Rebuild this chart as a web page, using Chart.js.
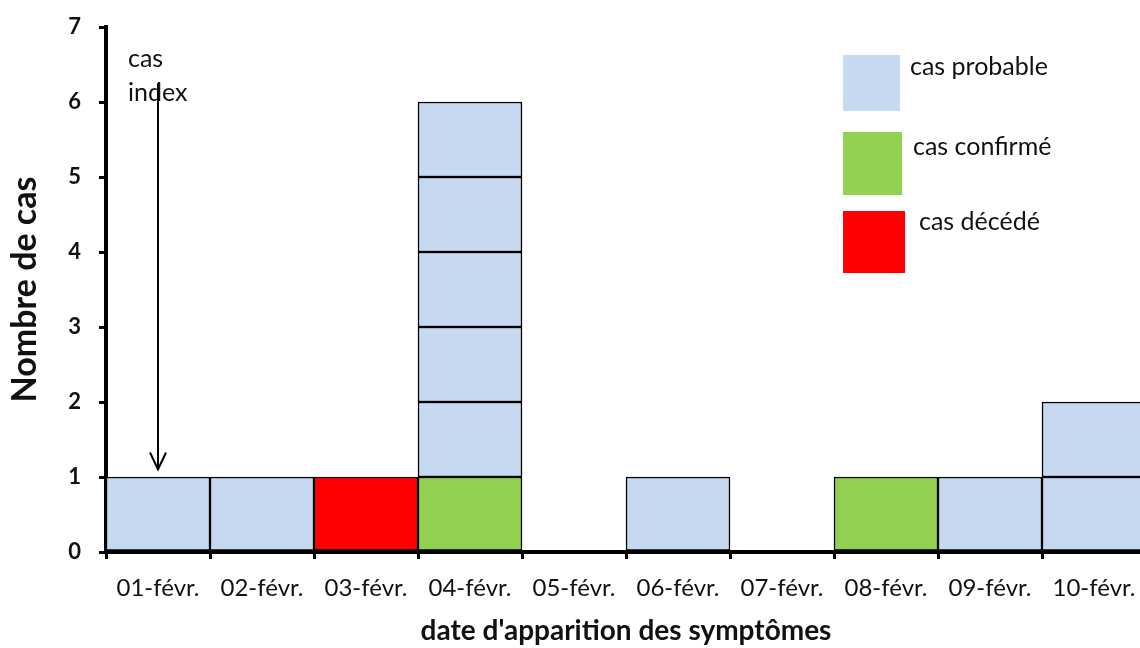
<!DOCTYPE html>
<html>
<head>
<meta charset="utf-8">
<script src="https://cdn.jsdelivr.net/npm/chart.js@4"></script>
<style>
  html, body { margin: 0; padding: 0; background: #fff; overflow: hidden; }
  #wrap { width: 1160px; height: 648px; }
</style>
</head>
<body>
<div id="wrap"><canvas id="chart" width="1160" height="648"></canvas></div>
<script>
// Data
const categories = ["01-févr.", "02-févr.", "03-févr.", "04-févr.", "05-févr.",
  "06-févr.", "07-févr.", "08-févr.", "09-févr.", "10-févr."];
const confirmed = [0, 0, 0, 1, 0, 0, 0, 1, 0, 0];
const deceased = [0, 0, 1, 0, 0, 0, 0, 0, 0, 0];
const probable = [1, 1, 0, 5, 0, 1, 0, 0, 1, 2];
const yTicks = [0, 1, 2, 3, 4, 5, 6, 7];

const seriesNames = ["cas probable", "cas confirmé", "cas décédé"];
const seriesColors = ["#C6D9F1", "#92D050", "#FF0000"];

// index case arrow (value range on y)
const indexArrow = { category: 0, from: 6.25, to: 1.1 };

const FONT = "Lato, 'Open Sans', sans-serif";

// every case is its own box, so split counts into unit layers
function unitLayers(counts, label, color) {
  const max = Math.max(...counts);
  const layers = [];
  for (let k = 0; k < max; k++) {
    layers.push({
      label: label,
      data: counts.map((c) => (c > k ? 1 : null)),
      backgroundColor: color,
      borderColor: "#000",
      borderWidth: 1.5,
      borderSkipped: false,
      barPercentage: 1,
      categoryPercentage: 1,
    });
  }
  return layers;
}

const datasets = [
  ...unitLayers(confirmed, seriesNames[1], seriesColors[1]),
  ...unitLayers(deceased, seriesNames[2], seriesColors[2]),
  ...unitLayers(probable, seriesNames[0], seriesColors[0]),
];

const extras = {
  id: "extras",
  afterDraw(chart) {
    const { ctx, scales: { x, y } } = chart;
    ctx.save();

    // cas index annotation
    const ax = x.getPixelForValue(indexArrow.category);
    const yTop = y.getPixelForValue(indexArrow.from);
    const yBot = y.getPixelForValue(indexArrow.to);
    ctx.fillStyle = "#111";
    ctx.font = "25px " + FONT;
    ctx.textAlign = "left";
    ctx.textBaseline = "alphabetic";
    ctx.fillText("cas", ax - 30, 67);
    ctx.fillText("index", ax - 30, 101);

    ctx.strokeStyle = "#000";
    ctx.lineWidth = 2;
    ctx.beginPath();
    ctx.moveTo(ax, yTop);
    ctx.lineTo(ax, yBot);
    ctx.stroke();
    ctx.beginPath();
    ctx.moveTo(ax - 8, yBot - 17);
    ctx.lineTo(ax, yBot);
    ctx.lineTo(ax + 8, yBot - 17);
    ctx.stroke();

    // legend
    const boxes = [
      { x: 843, y: 55, w: 57, h: 56, tx: 910, ty: 75 },
      { x: 843, y: 132, w: 59, h: 63, tx: 913, ty: 155 },
      { x: 843, y: 211, w: 62, h: 62, tx: 919, ty: 230 },
    ];
    ctx.font = "25px " + FONT;
    boxes.forEach((b, i) => {
      ctx.fillStyle = seriesColors[i];
      ctx.fillRect(b.x, b.y, b.w, b.h);
      ctx.fillStyle = "#111";
      ctx.fillText(seriesNames[i], b.tx, b.ty);
    });
    ctx.restore();
  },
};

new Chart(document.getElementById("chart"), {
  type: "bar",
  data: { labels: categories, datasets: datasets },
  options: {
    responsive: false,
    animation: false,
    layout: { padding: { top: 27, right: 14, left: 0, bottom: 0 } },
    plugins: { legend: { display: false }, tooltip: { enabled: false } },
    scales: {
      x: {
        stacked: true,
        grid: {
          offset: true,
          drawOnChartArea: false,
          color: "#000",
          lineWidth: 3,
          tickLength: 7,
        },
        border: { color: "#000", width: 4 },
        ticks: { color: "#111", font: { family: FONT, size: 24 }, padding: 15, maxRotation: 0 },
        title: {
          display: true,
          text: "date d'apparition des symptômes",
          color: "#111",
          font: { family: FONT, size: 28, weight: "bold" },
          padding: { top: 10, bottom: 0 },
        },
        afterFit: (scale) => {
          scale.height = 96;
          scale.paddingLeft = 0;
          scale.paddingRight = 0;
        },
      },
      y: {
        stacked: true,
        min: 0,
        max: 7,
        afterBuildTicks: (scale) => { scale.ticks = yTicks.map((v) => ({ value: v })); },
        grid: {
          drawOnChartArea: false,
          color: "#000",
          lineWidth: 3,
          tickLength: 7,
        },
        border: { color: "#000", width: 4 },
        ticks: { color: "#111", font: { family: FONT, size: 22, weight: "bold" }, padding: 18 },
        title: {
          display: true,
          text: "Nombre de cas",
          color: "#111",
          font: { family: FONT, size: 34, weight: "bold" },
          padding: { top: 5, bottom: 20 },
        },
        afterFit: (scale) => {
          scale.width = 106;
          scale.paddingTop = 0;
          scale.paddingBottom = 0;
        },
      },
    },
  },
  plugins: [extras],
});
</script>
</body>
</html>
